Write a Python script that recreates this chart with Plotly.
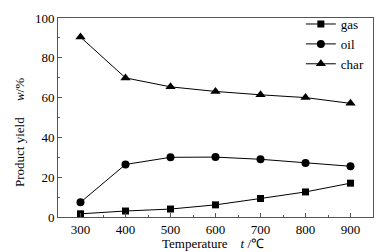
import plotly.graph_objects as go

temps = [300, 400, 500, 600, 700, 800, 900]
gas = [1.6, 3.0, 4.0, 6.1, 9.3, 12.6, 17.0]
oil = [7.4, 26.4, 30.0, 30.1, 29.0, 27.1, 25.5]
char = [90.4, 69.9, 65.4, 63.1, 61.4, 60.0, 57.1]

series = [("gas", gas, "square", 7), ("oil", oil, "circle", 8), ("char", char, "triangle-up", 9)]

fig = go.Figure()
for name, vals, sym, sz in series:
    fig.add_trace(go.Scatter(
        x=temps, y=vals, name=name, mode="lines+markers",
        line=dict(color="black", width=1),
        marker=dict(symbol=sym, size=sz, color="black"),
    ))

font = dict(family="Liberation Serif, Times New Roman, serif", size=13, color="black")
fig.update_layout(
    template="none",
    width=391, height=252,
    margin=dict(l=58, r=18, t=9, b=35),
    paper_bgcolor="white", plot_bgcolor="white",
    font=font,
    showlegend=True,
    legend=dict(x=0.99, y=1.045, xanchor="right", yanchor="top",
                bgcolor="rgba(0,0,0,0)", font=dict(size=13),
                tracegroupgap=0, itemwidth=30),
    xaxis=dict(
        automargin=False,
        range=[250, 950], tickvals=[300, 400, 500, 600, 700, 800, 900],
        showgrid=False, zeroline=False,
        showline=True, linecolor="#555", linewidth=1, mirror=True,
        ticks="inside", ticklen=4, tickcolor="#555",
        minor=dict(ticks="inside", ticklen=2, tickcolor="#555", dtick=50, tick0=250, showgrid=False),
        tickfont=dict(size=13),
    ),
    yaxis=dict(
        automargin=False,
        range=[0, 100], tickvals=[0, 20, 40, 60, 80, 100],
        showgrid=False, zeroline=False,
        showline=True, linecolor="#555", linewidth=1, mirror=True,
        ticks="inside", ticklen=4, tickcolor="#555",
        minor=dict(ticks="inside", ticklen=2, tickcolor="#555", dtick=10, tick0=0, showgrid=False),
        tickfont=dict(size=13),
    ),
    annotations=[
        dict(text="Temperature\u00a0\u00a0\u00a0\u00a0<i>t</i> /℃",
             xref="paper", yref="paper", x=0.492, y=-0.135,
             xanchor="center", yanchor="middle", showarrow=False, font=dict(size=13)),
        dict(text="Product yield\u00a0\u00a0\u00a0\u00a0\u00a0<i>w</i>/%",
             xref="paper", yref="paper", x=-0.12, y=0.423, textangle=-90,
             xanchor="center", yanchor="middle", showarrow=False, font=dict(size=13)),
    ],
)

fig.write_html("out.html", config={"displayModeBar": False},
               post_script="document.body.style.margin='0';")
